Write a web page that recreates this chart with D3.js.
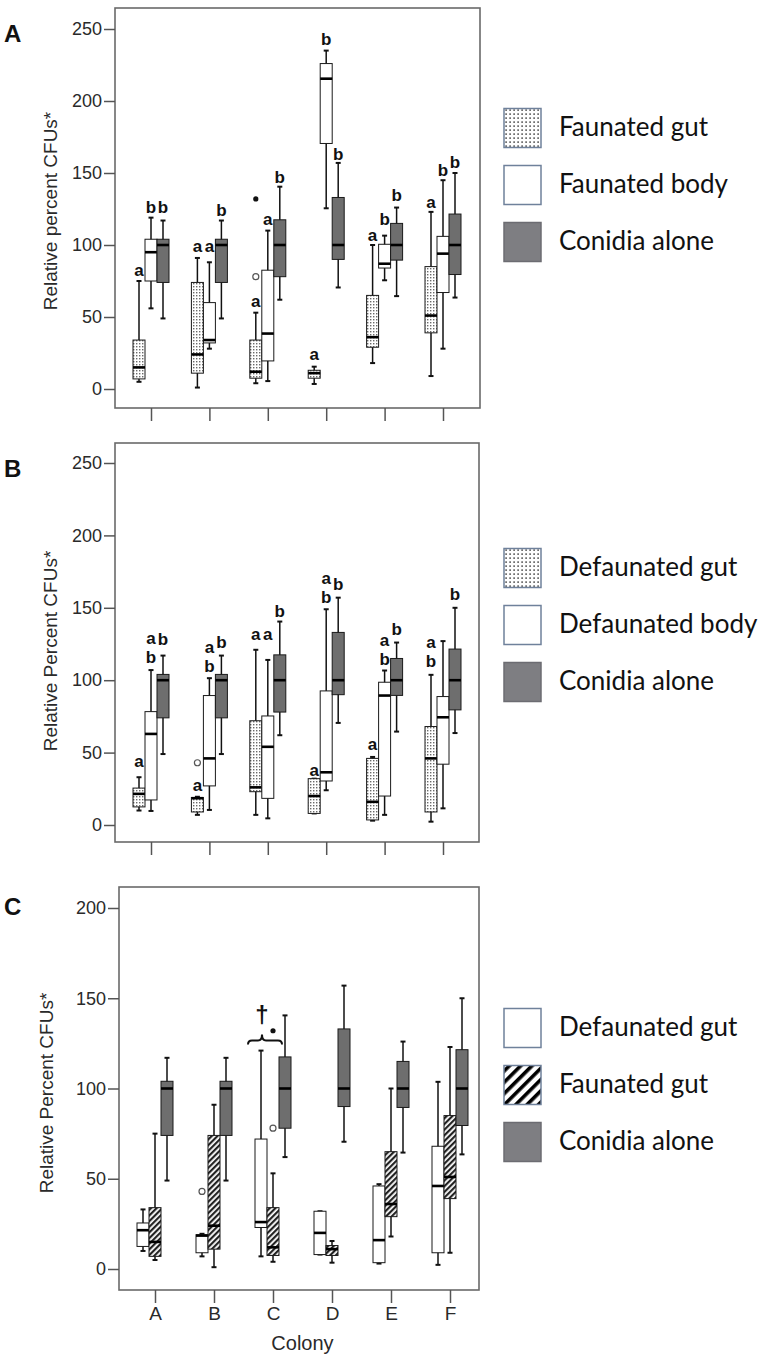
<!DOCTYPE html>
<html>
<head>
<meta charset="utf-8">
<script src="https://cdn.jsdelivr.net/npm/d3@7"></script>
<style>
  html, body { margin: 0; padding: 0; background: #fff; }
  svg { display: block; }
</style>
</head>
<body>
<script>
// ---------------- DATA ----------------
const colonies = ["A", "B", "C", "D", "E", "F"];
// five-number summaries per colony: [whiskerLow, q1, median, q3, whiskerHigh]
const faunatedGut    = [[5, 7, 15, 34, 75], [1, 11, 24, 74, 91], [4, 7.5, 12, 34, 53], [3.5, 7.5, 11, 13, 15.5], [18, 29, 36, 65, 100], [9, 39, 51, 85, 123]];
const faunatedBody   = [[56, 75, 95, 104, 119], [28, 32, 34, 60, 88], [5.5, 19.5, 38.5, 82.5, 110], [125.5, 170.5, 215.5, 226, 235], [75.5, 84, 87, 100.5, 106.5], [28, 67, 94, 106, 145]];
const conidiaAlone   = [[49, 74, 100, 104, 117], [49, 74, 100, 104, 117], [62, 78, 100, 117.5, 140.5], [70.5, 90, 100, 133, 157], [64.5, 89.5, 100, 115, 126], [63.5, 79.5, 100, 121.5, 150]];
const defaunatedGut  = [[10, 12.5, 21.5, 25.5, 33], [7, 9, 18.5, 19, 19.5], [7, 23, 26, 72, 121], [8, 8, 20, 32, 32], [3, 3.5, 16, 46, 47], [2.3, 9, 46, 68, 103.7]];
const defaunatedBody = [[9.7, 17.3, 62.9, 78.3, 107], [10.4, 27, 46, 89.4, 101.4], [4.6, 18.4, 54, 75.3, 114], [24, 30.4, 36.4, 92.6, 149], [7, 20, 89.4, 98.6, 106.7], [11.5, 42, 74.4, 88.7, 127]];
// outliers: [colony, value, extreme]
const faunatedGutOutliers   = [["C", 78, false], ["C", 132, true]];
const defaunatedGutOutliers = [["B", 43, false]];
// significance letters: [colony, series index, lines (top to bottom), level of lowest line]
const lettersA = [
  ["A", 0, ["a"], 78.5], ["A", 1, ["b"], 122], ["A", 2, ["b"], 122],
  ["B", 0, ["a"], 95], ["B", 1, ["a"], 95], ["B", 2, ["b"], 120],
  ["C", 0, ["a"], 57], ["C", 1, ["a"], 114], ["C", 2, ["b"], 143],
  ["D", 0, ["a"], 20], ["D", 1, ["b"], 239], ["D", 2, ["b"], 159],
  ["E", 0, ["a"], 103], ["E", 1, ["b"], 114], ["E", 2, ["b"], 130.5],
  ["F", 0, ["a"], 125.7], ["F", 1, ["b"], 147.6], ["F", 2, ["b"], 153.5]
];
const lettersB = [
  ["A", 0, ["a"], 40], ["A", 1, ["a", "b"], 112], ["A", 2, ["b"], 124],
  ["B", 0, ["a"], 23.5], ["B", 1, ["a", "b"], 106], ["B", 2, ["b"], 122],
  ["C", 0, ["a"], 128], ["C", 1, ["a"], 128], ["C", 2, ["b"], 143.4],
  ["D", 0, ["a"], 34], ["D", 1, ["a", "b"], 153.4], ["D", 2, ["b"], 162],
  ["E", 0, ["a"], 51.8], ["E", 1, ["a", "b"], 110.6], ["E", 2, ["b"], 131],
  ["F", 0, ["a", "b"], 109], ["F", 2, ["b"], 155.5]
];
const yTicksAB = [0, 50, 100, 150, 200, 250];
const yTicksC  = [0, 50, 100, 150, 200];
const legendA = ["Faunated gut", "Faunated body", "Conidia alone"];
const legendB = ["Defaunated gut", "Defaunated body", "Conidia alone"];
const legendC = ["Defaunated gut", "Faunated gut", "Conidia alone"];
const yTitleA = "Relative percent CFUs*";
const yTitleBC = "Relative Percent CFUs*";
const xTitle = "Colony";
const daggerMark = "\u2020";

// ---------------- DRAWING ----------------
const W = 762, H = 1363;
const svg = d3.select("body").append("svg").attr("width", W).attr("height", H);
const defs = svg.append("defs");

function pat(id, size, rot, build) {
  const p = defs.append("pattern").attr("id", id).attr("patternUnits", "userSpaceOnUse")
    .attr("width", size).attr("height", size);
  if (rot) p.attr("patternTransform", `rotate(${rot})`);
  p.append("rect").attr("width", size).attr("height", size).attr("fill", "#fff");
  build(p);
}
pat("dotsPlot", 3, 0, p => p.append("rect").attr("x", 1).attr("y", 1).attr("width", 1.4).attr("height", 1.4).attr("fill", "#6a6a6a"));
pat("dotsLegend", 4, 0, p => p.append("rect").attr("x", 1.4).attr("y", 1.4).attr("width", 1.4).attr("height", 1.4).attr("fill", "#222"));
pat("hatchPlot", 4, 45, p => p.append("rect").attr("x", 0).attr("y", 0).attr("width", 2.2).attr("height", 4).attr("fill", "#222"));
pat("hatchLegend", 8, 45, p => p.append("rect").attr("x", 0).attr("y", 0).attr("width", 3.6).attr("height", 8).attr("fill", "#000"));

const FILLS = {
  dots: { plot: "url(#dotsPlot)", legend: "url(#dotsLegend)" },
  white: { plot: "#fff", legend: "#fff" },
  grey: { plot: "#6e6e6e", legend: "#7e7e82" },
  hatch: { plot: "url(#hatchPlot)", legend: "url(#hatchLegend)" }
};

const AXIS_FONT = "'Liberation Sans', Arial, sans-serif";
const LEGEND_FONT = "Lato, 'Open Sans', sans-serif";

const panels = [
  { letter: "A", top: 8, bottom: 408, left: 115, right: 480, yDomain: [0, 250], yRange: [389, 29], ticks: yTicksAB,
    xRange: [151, 443], letterY: 42, yTitle: yTitleA, yTitleX: 50, yTitleY: 211,
    series: [faunatedGut, faunatedBody, conidiaAlone], fills: ["dots", "white", "grey"],
    outliers: [faunatedGutOutliers, [], []], letters: lettersA, legend: legendA, legendY: 128, showX: false },
  { letter: "B", top: 443, bottom: 842, left: 115, right: 479, yDomain: [0, 250], yRange: [825, 463], ticks: yTicksAB,
    xRange: [151, 443], letterY: 477, yTitle: yTitleBC, yTitleX: 50, yTitleY: 651,
    series: [defaunatedGut, defaunatedBody, conidiaAlone], fills: ["dots", "white", "grey"],
    outliers: [defaunatedGutOutliers, [], []], letters: lettersB, legend: legendB, legendY: 568, showX: false },
  { letter: "C", top: 887, bottom: 1290, left: 119, right: 479, yDomain: [0, 200], yRange: [1269, 908], ticks: yTicksC,
    xRange: [155, 450], letterY: 915, yTitle: yTitleBC, yTitleX: 46, yTitleY: 1093,
    series: [defaunatedGut, faunatedGut, conidiaAlone], fills: ["white", "hatch", "grey"],
    outliers: [defaunatedGutOutliers, faunatedGutOutliers, []], letters: [], legend: legendC, legendY: 1028, showX: true,
    brace: true }
];

const BOX_W = 12;
const LETTER_FONT = "'Liberation Sans', Arial, sans-serif";
const LETTER_SIZE = 17;
const LETTER_STEP = 19;

panels.forEach(cfg => {
  const g = svg.append("g");
  const y = d3.scaleLinear().domain(cfg.yDomain).range(cfg.yRange);
  const x = d3.scalePoint().domain(colonies).range(cfg.xRange);
  const bx = (col, i) => x(col) + (i - 1) * BOX_W;

  // frame
  g.append("rect").attr("x", cfg.left).attr("y", cfg.top)
    .attr("width", cfg.right - cfg.left).attr("height", cfg.bottom - cfg.top)
    .attr("fill", "none").attr("stroke", "#6a6a6a").attr("stroke-width", 1.6);

  // y axis
  const ya = g.append("g").attr("transform", `translate(${cfg.left},0)`)
    .call(d3.axisLeft(y).tickValues(cfg.ticks).tickSize(11).tickPadding(2).tickFormat(d3.format("d")));
  ya.select(".domain").remove();
  ya.selectAll(".tick line").attr("stroke", "#555").attr("stroke-width", 1.5);
  ya.selectAll(".tick text").attr("font-family", AXIS_FONT).attr("font-size", 18).attr("fill", "#2a2a2a");

  // x axis
  const xa = g.append("g").attr("transform", `translate(0,${cfg.bottom})`)
    .call(d3.axisBottom(x).tickSize(13).tickPadding(4).tickFormat(cfg.showX ? (d => d) : (() => "")));
  xa.select(".domain").remove();
  xa.selectAll(".tick line").attr("stroke", "#555").attr("stroke-width", 1.5);
  xa.selectAll(".tick text").attr("font-family", AXIS_FONT).attr("font-size", 19).attr("fill", "#2a2a2a");

  // panel letter
  g.append("text").attr("x", 4).attr("y", cfg.letterY).text(cfg.letter)
    .attr("font-family", AXIS_FONT).attr("font-weight", "bold").attr("font-size", 24).attr("fill", "#111");

  // y title
  g.append("text").attr("transform", `translate(${cfg.yTitleX},${cfg.yTitleY}) rotate(-90)`)
    .attr("text-anchor", "middle").attr("dy", "0.35em").text(cfg.yTitle)
    .attr("font-family", AXIS_FONT).attr("font-size", 19).attr("fill", "#2a2a2a");

  if (cfg.showX) {
    g.append("text").attr("x", d3.mean(cfg.xRange)).attr("y", cfg.bottom + 60)
      .attr("text-anchor", "middle").text(xTitle)
      .attr("font-family", AXIS_FONT).attr("font-size", 20).attr("fill", "#2a2a2a");
  }

  // boxes
  cfg.series.forEach((ser, i) => {
    const fill = FILLS[cfg.fills[i]].plot;
    const sg = g.append("g");
    const items = colonies.map((c, k) => ({ c, s: ser[k] }));
    // whiskers
    sg.selectAll(".wh").data(items).join("line")
      .attr("x1", d => bx(d.c, i)).attr("x2", d => bx(d.c, i))
      .attr("y1", d => y(d.s[4])).attr("y2", d => y(d.s[0]))
      .attr("stroke", "#111").attr("stroke-width", 1.5);
    [0, 4].forEach(j => {
      sg.selectAll(".cap" + j).data(items).join("line")
        .attr("x1", d => bx(d.c, i) - 2.5).attr("x2", d => bx(d.c, i) + 2.5)
        .attr("y1", d => y(d.s[j])).attr("y2", d => y(d.s[j]))
        .attr("stroke", "#111").attr("stroke-width", 2);
    });
    // box
    sg.selectAll(".bx").data(items).join("rect")
      .attr("x", d => bx(d.c, i) - BOX_W / 2).attr("width", BOX_W)
      .attr("y", d => y(d.s[3])).attr("height", d => Math.max(1, y(d.s[1]) - y(d.s[3])))
      .attr("fill", fill).attr("stroke", "#1a1a1a").attr("stroke-width", 1);
    // median
    sg.selectAll(".md").data(items).join("line")
      .attr("x1", d => bx(d.c, i) - BOX_W / 2).attr("x2", d => bx(d.c, i) + BOX_W / 2)
      .attr("y1", d => y(d.s[2])).attr("y2", d => y(d.s[2]))
      .attr("stroke", "#000").attr("stroke-width", 2.6);
    // outliers
    sg.selectAll(".ol").data(cfg.outliers[i]).join("circle")
      .attr("cx", d => bx(d[0], i)).attr("cy", d => y(d[1]))
      .attr("r", d => d[2] ? 2.6 : 3)
      .attr("fill", d => d[2] ? "#111" : "#fff")
      .attr("stroke", d => d[2] ? "none" : "#555").attr("stroke-width", 1.2);
  });

  // significance letters
  cfg.letters.forEach(([col, i, lines, lvl]) => {
    const n = lines.length;
    lines.forEach((s, k) => {
      g.append("text").attr("x", bx(col, i)).attr("y", y(lvl) - (n - 1 - k) * LETTER_STEP)
        .attr("text-anchor", "middle").text(s)
        .attr("font-family", LETTER_FONT).attr("font-weight", "bold").attr("font-size", LETTER_SIZE).attr("fill", "#111");
    });
  });

  // brace + dagger (panel C)
  if (cfg.brace) {
    const top = Math.max(cfg.series[0][2][4], cfg.series[1][2][4]);
    const yEnd = y(top) - 6, yMid = yEnd - 4, yTip = yMid - 6;
    const x0 = bx("C", 0) - 13, x1 = bx("C", 1) + 9, cx = (x0 + x1) / 2 - 3;
    const q = 4;
    const path = `M${x0},${yEnd} Q${x0},${yMid} ${x0 + q},${yMid} L${cx - q},${yMid} Q${cx},${yMid} ${cx},${yTip}` +
      ` Q${cx},${yMid} ${cx + q},${yMid} L${x1 - q},${yMid} Q${x1},${yMid} ${x1},${yEnd}`;
    g.append("path").attr("d", path).attr("fill", "none").attr("stroke", "#111").attr("stroke-width", 2);
    g.append("text").attr("x", cx).attr("y", yTip - 12).attr("text-anchor", "middle").text(daggerMark)
      .attr("font-family", AXIS_FONT).attr("font-size", 24).attr("font-weight", "bold").attr("fill", "#111");
  }

  // legend
  cfg.legend.forEach((name, k) => {
    const cy = cfg.legendY + k * 57;
    const key = cfg.fills[k];
    g.append("rect").attr("x", 504).attr("y", cy - 19.5).attr("width", 37).attr("height", 39)
      .attr("fill", FILLS[key].legend).attr("stroke", key === "grey" ? "#6c6c72" : "#6f819b").attr("stroke-width", 1.5);
    g.append("text").attr("x", 559).attr("y", cy - 1).attr("dy", "0.35em").text(name)
      .attr("font-family", LEGEND_FONT).attr("font-size", 26).attr("fill", "#111");
  });
});
</script>
</body>
</html>
